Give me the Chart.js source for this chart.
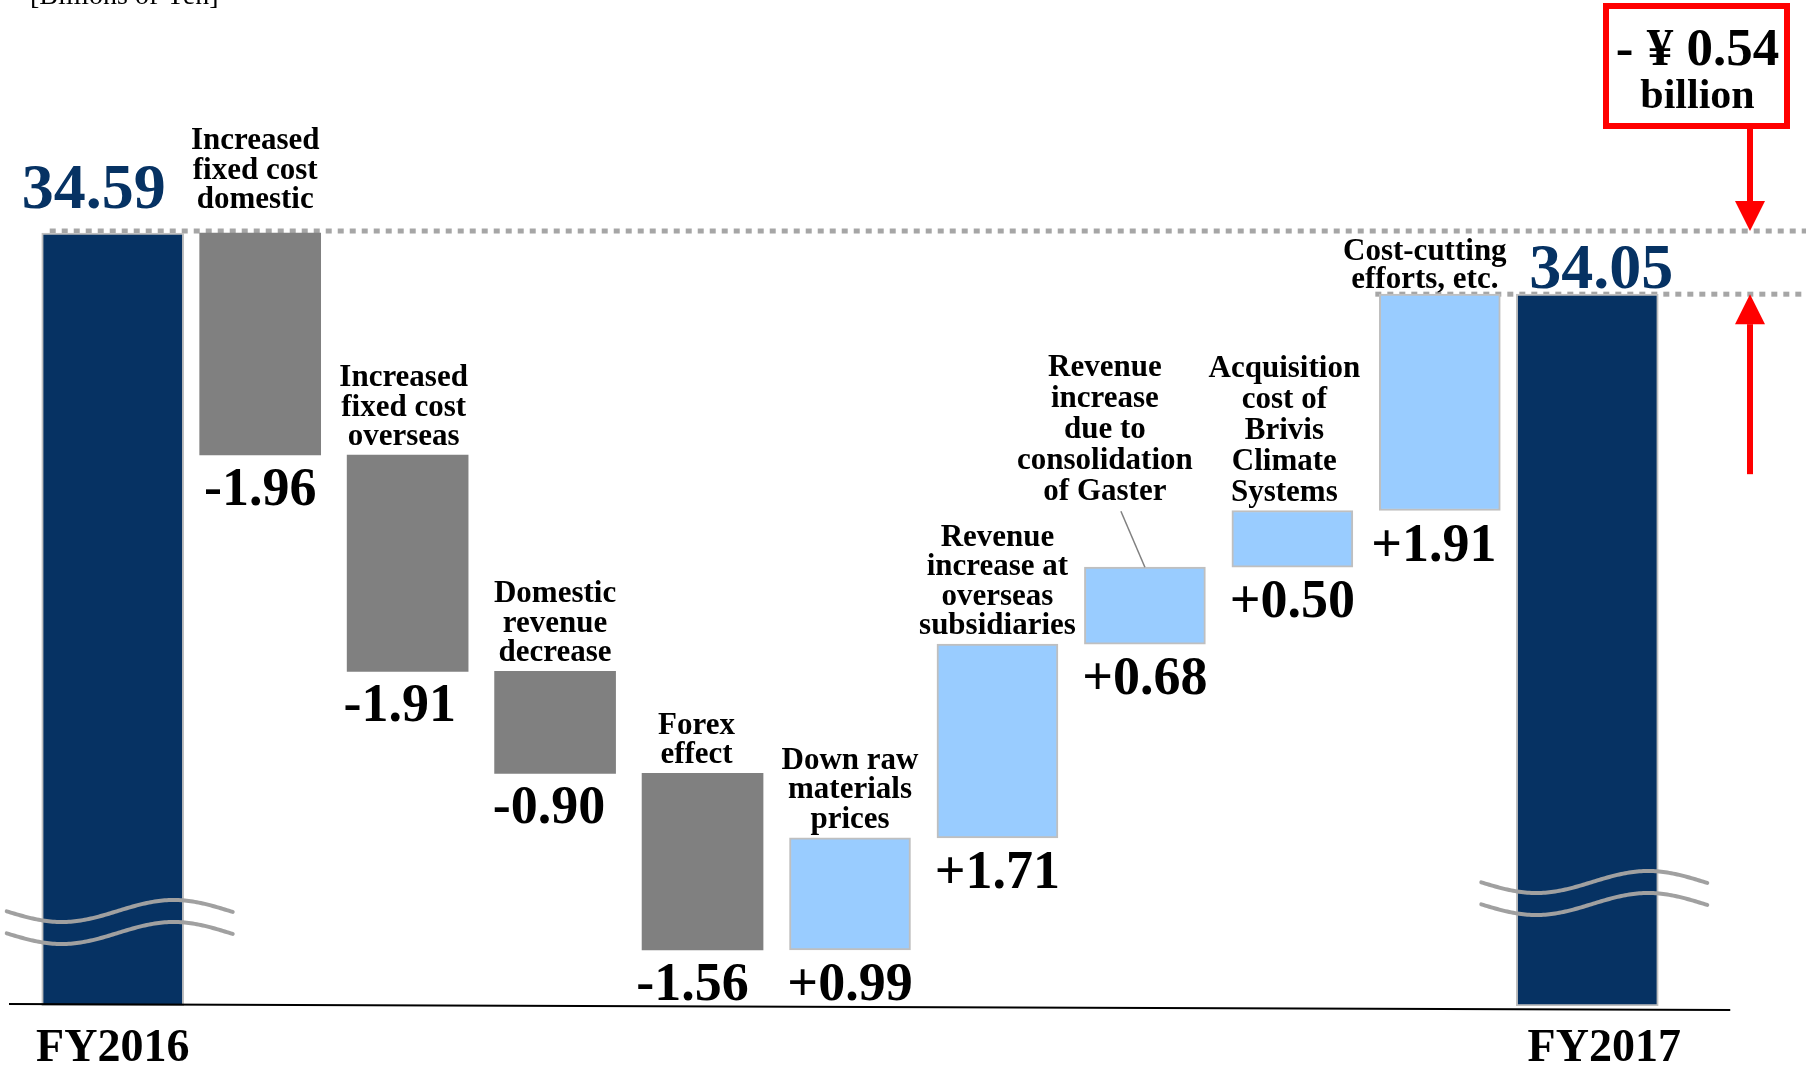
<!DOCTYPE html>
<html><head><meta charset="utf-8">
<script src="https://cdn.jsdelivr.net/npm/chart.js@4.4.1/dist/chart.umd.min.js"></script>
<style>html,body{margin:0;padding:0;background:#fff;overflow:hidden}canvas{display:block}</style>
</head><body>
<canvas id="c" width="1806" height="1066"></canvas>
<script>
// ---- data ----
const unitLabel = '[Billions of Yen]';
const totalLabels = ['FY2016', 'FY2017'];
const totalValues = [34.59, 34.05];
const factorLabels = [
  ['Increased', 'fixed cost', 'domestic'],
  ['Increased', 'fixed cost', 'overseas'],
  ['Domestic', 'revenue', 'decrease'],
  ['Forex', 'effect'],
  ['Down raw', 'materials', 'prices'],
  ['Revenue', 'increase at', 'overseas', 'subsidiaries'],
  ['Revenue', 'increase', 'due to', 'consolidation', 'of Gaster'],
  ['Acquisition', 'cost of', 'Brivis', 'Climate', 'Systems'],
  ['Cost-cutting', 'efforts, etc.']
];
const factorValues = [-1.96, -1.91, -0.90, -1.56, 0.99, 1.71, 0.68, 0.50, 1.91];

// ---- axis range (broken axis: bottom of the chart is not zero) ----
const Y_MIN = 27.766, Y_MAX = 36.647;

// ---- styles ----
const NAVY = '#063263', GREY = '#808080', LIGHT = '#99CCFF', EDGE = '#BFBFBF';
const SERIF = '"Liberation Serif","Times New Roman",Times,serif';
const TOTAL_W = 142, FACTOR_W = 121;

// ---- derived ----
const n = factorValues.length;
const xLabels = [totalLabels[0], ...factorLabels.map(l => l.join(' ')), totalLabels[1]];
let run = totalValues[0];
const factorRanges = factorValues.map(v => { const s = run; run = Math.round((run + v) * 100) / 100; return [s, run]; });
const totalData = [[Y_MIN, totalValues[0]], ...Array(n).fill(null), [Y_MIN, totalValues[1]]];
const factorData = [null, ...factorRanges, null];
const fmt = v => (v < 0 ? '-' : '+') + Math.abs(v).toFixed(2);
const diff = Math.round((totalValues[1] - totalValues[0]) * 100) / 100;
const diffText = (diff < 0 ? '- ' : '+ ') + '\u00A5 ' + Math.abs(diff).toFixed(2);

// label layout tweaks (px)
const labelTweaks = {
  0: { lift: 15, dx: -5 },
  1: { dx: -4 },
  3: { dx: -6 },
  6: { dx: -40, lift: 57, leader: true, lh: 31 },
  7: { dx: -8, lh: 31 },
  8: { lift: -4, dx: -15, lh: 28 }
};
const valueDx = { 1: -8, 2: -6, 3: -10, 8: -6 };
const totalLabelTweaks = [{ gap: 25, dx: -19, fyDx: 0 }, { gap: 6, dx: 14, fyDx: 17 }];

function bold(size) { return 'bold ' + size + 'px ' + SERIF; }

function wave(ctx, x0, y0, w) {
  ctx.beginPath();
  for (let dx = 0; dx <= w; dx += 2) {
    const yy = y0 + 11 * Math.cos(2 * Math.PI * (dx - 55) / 224);
    if (dx === 0) ctx.moveTo(x0 + dx, yy); else ctx.lineTo(x0 + dx, yy);
  }
  ctx.stroke();
}

const decor = {
  id: 'decor',
  beforeDatasetsDraw(chart) {
    const { ctx, scales: { x, y } } = chart;
    ctx.save();
    ctx.strokeStyle = '#A6A6A6'; ctx.lineWidth = 5; ctx.setLineDash([6, 6]);
    const y1 = y.getPixelForValue(totalValues[0]) - 2;
    const y2 = y.getPixelForValue(totalValues[1]);
    ctx.beginPath(); ctx.moveTo(x.getPixelForValue(0) - TOTAL_W / 2 + 8, y1); ctx.lineTo(chart.width, y1); ctx.stroke();
    ctx.beginPath(); ctx.moveTo(x.getPixelForValue(n) - FACTOR_W / 2 - 4, y2); ctx.lineTo(chart.width, y2); ctx.stroke();
    ctx.restore();
  },
  afterDatasetsDraw(chart) {
    const { ctx, scales: { x, y }, chartArea } = chart;
    ctx.save();
    // break marks on totals
    ctx.strokeStyle = '#A0A0A0'; ctx.lineWidth = 4; ctx.lineCap = 'round';
    const waveOff = [95, 124];
    [0, n + 1].forEach((idx, k) => {
      const cx = x.getPixelForValue(idx);
      const yy = chartArea.bottom - waveOff[k];
      wave(ctx, cx - 106, yy, 227);
      wave(ctx, cx - 106, yy + 22, 227);
    });
    // base line
    ctx.lineCap = 'butt';
    ctx.strokeStyle = '#000'; ctx.lineWidth = 2;
    ctx.beginPath();
    ctx.moveTo(chartArea.left - 30, chartArea.bottom - 2);
    ctx.lineTo(x.getPixelForValue(n + 1) + TOTAL_W / 2 + 72, chartArea.bottom + 4);
    ctx.stroke();

    ctx.textBaseline = 'alphabetic';
    // unit
    ctx.fillStyle = '#000'; ctx.font = '28px ' + SERIF; ctx.textAlign = 'left';
    ctx.fillText(unitLabel, 30, 4);
    ctx.textAlign = 'center';

    // totals
    [0, n + 1].forEach((idx, k) => {
      const cx = x.getPixelForValue(idx);
      const top = y.getPixelForValue(totalValues[k]);
      const t = totalLabelTweaks[k];
      ctx.fillStyle = NAVY; ctx.font = bold(64);
      ctx.fillText(totalValues[k].toFixed(2), cx + t.dx, top - t.gap);
      ctx.fillStyle = '#000'; ctx.font = bold(46);
      ctx.fillText(totalLabels[k], cx + t.fyDx, chartArea.bottom + 55);
    });

    // factors
    factorRanges.forEach((r, i) => {
      const cx = x.getPixelForValue(i + 1);
      const top = y.getPixelForValue(Math.max(r[0], r[1]));
      const bot = y.getPixelForValue(Math.min(r[0], r[1]));
      const tw = labelTweaks[i] || {};
      const lx = cx + (tw.dx || 0);
      const lh = tw.lh || 29.5;
      const lastBase = top - 10 - (tw.lift || 0);
      const lines = factorLabels[i];
      ctx.fillStyle = '#000'; ctx.font = bold(31);
      lines.forEach((ln, j) => ctx.fillText(ln, lx, lastBase - (lines.length - 1 - j) * lh));
      if (tw.leader) {
        ctx.strokeStyle = '#808080'; ctx.lineWidth = 1.5;
        ctx.beginPath(); ctx.moveTo(lx + 16, lastBase + 11); ctx.lineTo(cx, top); ctx.stroke();
      }
      ctx.font = bold(54);
      ctx.fillText(fmt(factorValues[i]), cx + (valueDx[i] || 0), bot + 50);
    });

    // red box
    const boxR = chart.width - 16, boxL = boxR - 187, boxT = 3, boxB = 129;
    ctx.strokeStyle = '#FF0000'; ctx.lineWidth = 6;
    ctx.strokeRect(boxL + 3, boxT + 3, boxR - boxL - 6, boxB - boxT - 6);
    const bcx = (boxL + boxR) / 2;
    ctx.fillStyle = '#000';
    ctx.font = bold(53); ctx.fillText(diffText, bcx + 1, 65);
    ctx.font = bold(42); ctx.fillText('billion', bcx + 1, 108);

    // red arrows
    const ax = chart.width - 56;
    const y1 = y.getPixelForValue(totalValues[0]) - 2;
    const y2 = y.getPixelForValue(totalValues[1]);
    ctx.fillStyle = '#FF0000';
    ctx.fillRect(ax - 3, boxB, 6, (y1 - 30) - boxB);
    ctx.beginPath(); ctx.moveTo(ax - 15, y1 - 30); ctx.lineTo(ax + 15, y1 - 30); ctx.lineTo(ax, y1); ctx.closePath(); ctx.fill();
    ctx.beginPath(); ctx.moveTo(ax - 15, y2 + 30); ctx.lineTo(ax + 15, y2 + 30); ctx.lineTo(ax, y2); ctx.closePath(); ctx.fill();
    ctx.fillRect(ax - 3, y2 + 30, 6, 150);
    ctx.restore();
  }
};

new Chart(document.getElementById('c'), {
  type: 'bar',
  data: {
    labels: xLabels,
    datasets: [
      {
        label: 'Total', data: totalData, grouped: false, barThickness: TOTAL_W,
        backgroundColor: NAVY, borderColor: EDGE, borderWidth: 2, borderSkipped: false
      },
      {
        label: 'Change', data: factorData, grouped: false, barThickness: FACTOR_W,
        backgroundColor: factorData.map((d, i) => i === 0 || i === n + 1 ? 'transparent' : (factorValues[i - 1] < 0 ? GREY : LIGHT)),
        borderColor: factorData.map((d, i) => i === 0 || i === n + 1 ? 'transparent' : (factorValues[i - 1] < 0 ? GREY : EDGE)),
        borderWidth: factorData.map((d, i) => i === 0 || i === n + 1 ? 0 : (factorValues[i - 1] < 0 ? 0 : 2)),
        borderSkipped: false
      }
    ]
  },
  options: {
    responsive: false, animation: false, devicePixelRatio: 1,
    layout: { padding: { left: 39, right: 145, top: 0, bottom: 60 } },
    plugins: { legend: { display: false }, tooltip: { enabled: false } },
    scales: {
      x: { display: false },
      y: { display: false, min: Y_MIN, max: Y_MAX }
    }
  },
  plugins: [decor]
});
</script>
</body></html>
